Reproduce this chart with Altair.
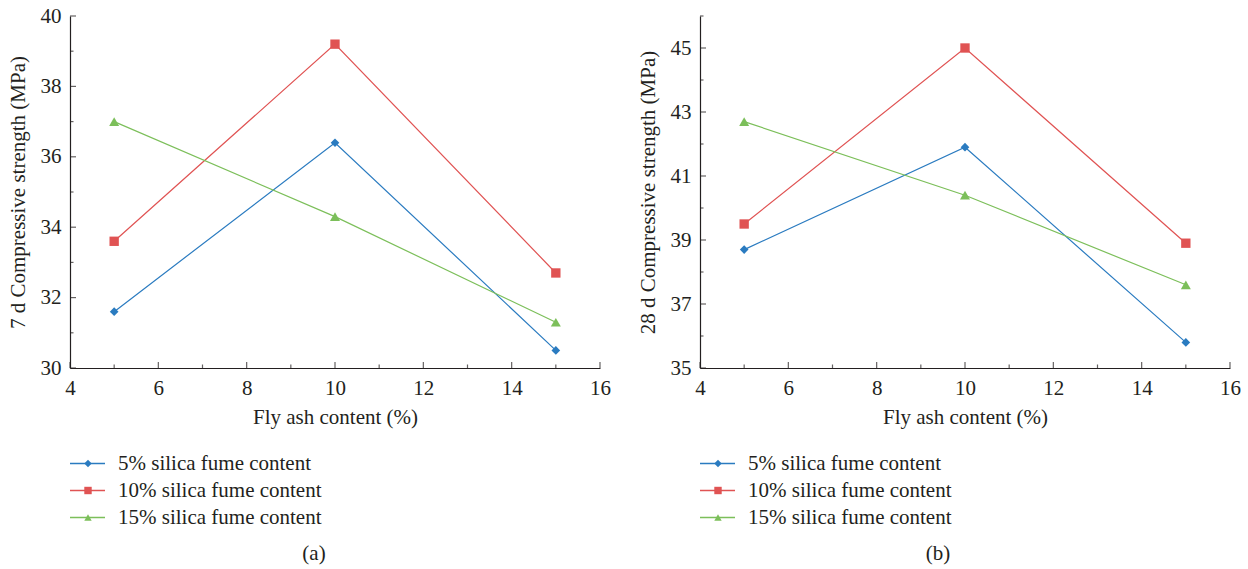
import altair as alt
import pandas as pd

FONT = "Liberation Serif"
DARK = "#231f20"

fly_ash = [5, 10, 15]
series_names = ["5% silica fume content", "10% silica fume content", "15% silica fume content"]
colors = ["#2a7bc0", "#e05353", "#7cbf5a"]
shapes = ["diamond", "square", "triangle-up"]
marker_sizes = [75, 100, 105]

# 7 d compressive strength (MPa)
s7_sf5 = [31.6, 36.4, 30.5]
s7_sf10 = [33.6, 39.2, 32.7]
s7_sf15 = [37.0, 34.3, 31.3]
# 28 d compressive strength (MPa)
s28_sf5 = [38.7, 41.9, 35.8]
s28_sf10 = [39.5, 45.0, 38.9]
s28_sf15 = [42.7, 40.4, 37.6]

x_major = [4, 6, 8, 10, 12, 14, 16]
x_minor = [5, 7, 9, 11, 13, 15]
y7_major = [30, 32, 34, 36, 38, 40]
y7_minor = [31, 33, 35, 37, 39]
y28_major = [35, 37, 39, 41, 43, 45]
y28_minor = [36, 38, 40, 42, 44, 46]

W = 530
H = 352
FS = 21


def panel(vals, ytitle, ydom, ymaj, ymin, caption, cap_x):
    df = pd.DataFrame({
        "fly": fly_ash * 3,
        "strength": vals[0] + vals[1] + vals[2],
        "series": [s for s in series_names for _ in fly_ash],
    })
    color = alt.Color("series:N", scale=alt.Scale(domain=series_names, range=colors), legend=None)
    shape = alt.Shape("series:N", scale=alt.Scale(domain=series_names, range=shapes), legend=None)
    size = alt.Size("series:N", scale=alt.Scale(domain=series_names, range=marker_sizes), legend=None)
    xenc = alt.X("fly:Q", scale=alt.Scale(domain=[4, 16], nice=False, zero=False),
                 axis=alt.Axis(values=x_major, title="Fly ash content (%)", labelFlush=False))
    yenc = alt.Y("strength:Q", scale=alt.Scale(domain=ydom, nice=False, zero=False),
                 axis=alt.Axis(values=ymaj, title=ytitle, labelFlush=False))

    lines = alt.Chart(df).mark_line(strokeWidth=1.2).encode(x=xenc, y=yenc, color=color)
    pts = alt.Chart(df).mark_point(filled=True, opacity=1).encode(
        x=xenc, y=yenc, color=color, shape=shape, size=size)

    def xt(vs, ln):
        return alt.Chart(pd.DataFrame({"fly": vs})).mark_tick(
            orient="vertical", size=ln, thickness=1.2, yOffset=-ln / 2, color=DARK
        ).encode(x=alt.X("fly:Q"), y=alt.datum(ydom[0]))

    def yt(vs, ln):
        return alt.Chart(pd.DataFrame({"strength": vs})).mark_tick(
            orient="horizontal", size=ln, thickness=1.2, xOffset=ln / 2, color=DARK
        ).encode(y=alt.Y("strength:Q"), x=alt.datum(4))

    plot = alt.layer(lines, pts, xt(x_major, 6), xt(x_minor, 3.5), yt(ymaj, 6), yt(ymin, 3.5)).properties(
        width=W, height=H)

    leg_df = pd.DataFrame({"series": series_names})
    ly = alt.Y("series:N", sort=series_names, axis=None, scale=alt.Scale(domain=series_names))
    lbase = alt.Chart(leg_df)
    lrule = lbase.mark_rule(strokeWidth=1.6).encode(x=alt.value(0), x2=alt.value(35), y=ly, color=color)
    lpts = lbase.mark_point(filled=True, opacity=1, size=55).encode(
        x=alt.value(18), y=ly, color=color, shape=shape)
    ltxt = lbase.mark_text(align="left", baseline="middle", fontSize=FS, font=FONT, color=DARK).encode(
        x=alt.value(48), y=ly, text="series:N")
    legend = alt.layer(lrule, lpts, ltxt).properties(width=W, height=81)

    cap = alt.Chart(pd.DataFrame({"c": [caption]})).mark_text(
        fontSize=FS, font=FONT, color=DARK, baseline="middle").encode(
        x=alt.value(cap_x), y=alt.value(10), text="c:N").properties(width=W, height=20)

    return alt.vconcat(alt.vconcat(plot, legend, spacing=23), cap, spacing=12)


pa = panel([s7_sf5, s7_sf10, s7_sf15], "7 d Compressive strength (MPa)", [30, 40],
           y7_major, y7_minor, "(a)", 244)
pb = panel([s28_sf5, s28_sf10, s28_sf15], "28 d Compressive strength (MPa)", [35, 46],
           y28_major, y28_minor, "(b)", 238)

chart = alt.hconcat(pa, pb, spacing=26).properties(
    padding={"left": 7, "top": 5, "right": 5, "bottom": 5}
).configure_view(stroke=None).configure_axis(
    labelFont=FONT, titleFont=FONT, labelFontSize=FS, titleFontSize=FS,
    labelColor=DARK, titleColor=DARK, domainColor=DARK, domainWidth=1.2,
    ticks=False, grid=False, labelPadding=9, titlePadding=12,
    titleFontWeight="normal", labelOverlap=False,
).configure_axisX(titlePadding=8).configure_text(font=FONT)

chart.save("out.html", embed_options={"renderer": "svg", "actions": False})
